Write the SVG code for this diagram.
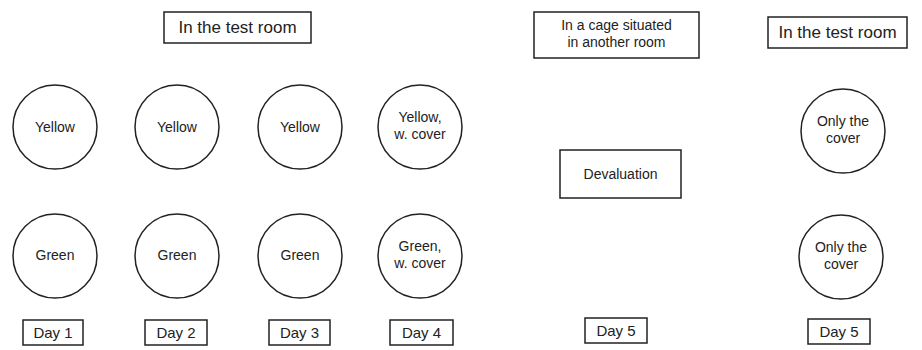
<svg xmlns="http://www.w3.org/2000/svg" width="922" height="350" viewBox="0 0 922 350">
<style>
.n{fill:#fff;stroke:#222;stroke-width:1.5}
.t{font-family:"Liberation Sans",Arial,sans-serif;font-size:14px;fill:#222;text-anchor:middle}
.h{font-size:17px}
.d{font-size:15px}
</style>
<rect width="922" height="350" fill="#fff"/>
<g id="title1"><rect class="n" x="164" y="12" width="147" height="31"/><text class="t h" x="237.5" y="33">In the test room</text></g>
<g id="cage"><rect class="n" x="534" y="12" width="165" height="46"/><text class="t" x="616.5" y="30">In a cage situated</text><text class="t" x="616.5" y="47">in another room</text></g>
<g id="title2"><rect class="n" x="768" y="17" width="139" height="31"/><text class="t h" x="837.5" y="38">In the test room</text></g>
<g id="y1"><circle class="n" cx="55" cy="127" r="42"/><text class="t" x="55" y="132">Yellow</text></g>
<g id="y2"><circle class="n" cx="177" cy="127" r="42"/><text class="t" x="177" y="132">Yellow</text></g>
<g id="y3"><circle class="n" cx="300" cy="127" r="42"/><text class="t" x="300" y="132">Yellow</text></g>
<g id="y4"><circle class="n" cx="420" cy="127" r="42"/><text class="t" x="420" y="122">Yellow,</text><text class="t" x="420" y="139">w. cover</text></g>
<g id="g1"><circle class="n" cx="55" cy="256" r="42"/><text class="t" x="55" y="260">Green</text></g>
<g id="g2"><circle class="n" cx="177" cy="256" r="42"/><text class="t" x="177" y="260">Green</text></g>
<g id="g3"><circle class="n" cx="300" cy="256" r="42"/><text class="t" x="300" y="260">Green</text></g>
<g id="g4"><circle class="n" cx="420" cy="256" r="42"/><text class="t" x="420" y="251">Green,</text><text class="t" x="420" y="268">w. cover</text></g>
<g id="dev"><rect class="n" x="560" y="150" width="121" height="48"/><text class="t" x="620.5" y="179">Devaluation</text></g>
<g id="c1"><circle class="n" cx="843" cy="131" r="42"/><text class="t" x="843" y="126">Only the</text><text class="t" x="843" y="143">cover</text></g>
<g id="c2"><circle class="n" cx="841" cy="257" r="42"/><text class="t" x="841" y="252">Only the</text><text class="t" x="841" y="269">cover</text></g>
<g id="d1"><rect class="n" x="23" y="320" width="60" height="25"/><text class="t d" x="53" y="338">Day 1</text></g>
<g id="d2"><rect class="n" x="145" y="320" width="62" height="25"/><text class="t d" x="176" y="338">Day 2</text></g>
<g id="d3"><rect class="n" x="269" y="320" width="61" height="25"/><text class="t d" x="299.5" y="338">Day 3</text></g>
<g id="d4"><rect class="n" x="390" y="320" width="63" height="25"/><text class="t d" x="421.5" y="338">Day 4</text></g>
<g id="d5a"><rect class="n" x="585" y="318" width="62" height="25"/><text class="t d" x="616" y="336">Day 5</text></g>
<g id="d5b"><rect class="n" x="808" y="319" width="62" height="25"/><text class="t d" x="839" y="337">Day 5</text></g>
<g id="connectors"></g>
</svg>
